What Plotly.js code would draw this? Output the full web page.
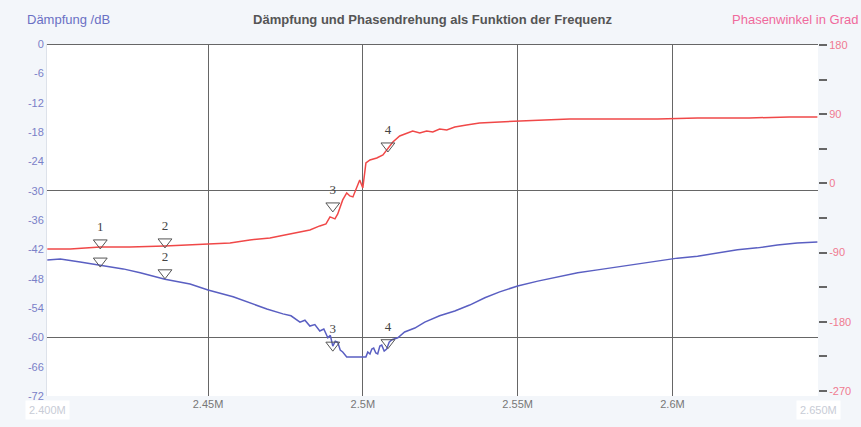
<!DOCTYPE html>
<html>
<head>
<meta charset="utf-8">
<script src="https://cdn.plot.ly/plotly-3.0.1.min.js"></script>
<style>html,body{margin:0;padding:0;background:#f3f6fa;}#chart{width:861px;height:427px;}</style>
</head>
<body>
<div id="chart"></div>
<script>
// Frequency in MHz
const dampFreq = [2.3981,2.4023,2.4087,2.4152,2.4226,2.4281,2.4361,2.4442,2.4500,2.4581,2.4635,2.4690,2.4742,2.4768,2.4797,2.4813,2.4829,2.4845,2.4861,2.4874,2.4887,2.4895,2.4903,2.4911,2.4919,2.4927,2.4935,2.4948,2.4977,2.5010,2.5016,2.5023,2.5029,2.5035,2.5042,2.5048,2.5055,2.5061,2.5069,2.5077,2.5085,2.5094,2.5113,2.5135,2.5168,2.5200,2.5248,2.5297,2.5345,2.5394,2.5442,2.5500,2.5565,2.5629,2.5694,2.5758,2.5823,2.5887,2.5952,2.6016,2.6081,2.6145,2.6210,2.6274,2.6339,2.6403,2.6468];
const dampDB = [-44.2,-44.0,-44.6,-45.2,-46.0,-46.8,-48.1,-49.1,-50.3,-51.7,-53.0,-54.2,-55.2,-55.6,-56.9,-56.5,-57.7,-57.4,-58.7,-58.3,-60.1,-59.6,-61.8,-60.8,-61.0,-62.6,-63.0,-64.0,-64.0,-64.0,-63.0,-63.4,-62.4,-62.2,-63.2,-63.4,-61.8,-61.6,-62.8,-62.4,-61.0,-60.5,-60.1,-58.9,-58.1,-56.9,-55.6,-54.6,-53.4,-51.9,-50.7,-49.5,-48.5,-47.7,-46.8,-46.2,-45.6,-45.0,-44.4,-43.8,-43.4,-42.7,-42.1,-41.7,-41.1,-40.7,-40.5];

const phaseFreq = [2.3981,2.4055,2.4152,2.4248,2.4361,2.4442,2.4500,2.4571,2.4635,2.4700,2.4748,2.4797,2.4829,2.4861,2.4881,2.4894,2.4910,2.4919,2.4935,2.4948,2.4958,2.4968,2.4981,2.4990,2.5000,2.5010,2.5023,2.5045,2.5065,2.5077,2.5097,2.5119,2.5142,2.5161,2.5184,2.5206,2.5226,2.5248,2.5271,2.5297,2.5335,2.5377,2.5442,2.5500,2.5587,2.5668,2.5758,2.5861,2.5952,2.6081,2.6248,2.6377,2.6468];
const phaseDeg = [-85.2,-85.2,-82.6,-82.6,-81.3,-80.0,-78.7,-77.4,-73.5,-70.9,-67.0,-63.1,-60.5,-55.3,-52.7,-43.6,-46.2,-39.7,-21.5,-12.4,-16.3,-17.6,-3.3,4.5,-5.9,26.6,30.5,33.1,37.0,43.5,53.9,61.7,65.6,68.2,65.6,68.2,66.9,70.8,69.5,73.4,76.0,78.6,79.9,81.2,82.5,83.8,83.8,83.8,83.8,85.1,85.1,86.4,86.4];

// Markers
const markerFreq = [2.4152,2.4361,2.4903,2.5081];
const markerPhase = [-77.4,-76.1,-29.3,48.7];
const markerDamp = [-44.4,-46.8,-61.6,-61.1];
const markerLabelsPhase = ['1','2','3','4'];
const markerLabelsDamp = ['','2','3','4'];

const xTickVals = [2.45,2.5,2.55,2.6];
const xTickText = ['2.45M','2.5M','2.55M','2.6M'];
const yTickVals = [0,-6,-12,-18,-24,-30,-36,-42,-48,-54,-60,-66,-72];
const yTickText = ['0','-6','-12','-18','-24','-30','-36','-42','-48','-54','-60','-66','-72'];
const y2TickVals = [180,135,90,45,0,-45,-90,-135,-180,-225,-270];
const y2TickText = ['180','','90','','0','','-90','','-180','','-270'];

const markerStyle = {symbol:'triangle-down-open', size:12, color:'#555', line:{width:1, color:'#555'}};
const markerFont = {family:'Liberation Serif, serif', size:13, color:'#444'};

const traces = [
  {x: phaseFreq, y: phaseDeg, yaxis:'y2', type:'scatter', mode:'lines', line:{color:'#f04848', width:1.5}, hoverinfo:'skip'},
  {x: dampFreq, y: dampDB, yaxis:'y', type:'scatter', mode:'lines', line:{color:'#5a5fc2', width:1.5}, hoverinfo:'skip'},
  {x: markerFreq, y: markerPhase, yaxis:'y2', type:'scatter', mode:'markers+text', marker:markerStyle, text:markerLabelsPhase, textposition:'top center', textfont:markerFont},
  {x: markerFreq, y: markerDamp, yaxis:'y', type:'scatter', mode:'markers+text', marker:markerStyle, text:markerLabelsDamp, textposition:'top center', textfont:markerFont},
  {x: [2.45], y: [0], yaxis:'y3', type:'scatter', mode:'none', hoverinfo:'skip'}
];

const layout = {
  width: 861, height: 427,
  margin: {l:47, r:43, t:44, b:31},
  paper_bgcolor:'#f3f6fa', plot_bgcolor:'#ffffff',
  showlegend:false,
  font:{family:'Liberation Sans, Arial, sans-serif'},
  title:{text:'<b>Dämpfung und Phasendrehung als Funktion der Frequenz</b>', x:0.5, xref:'paper', xanchor:'center', y:0.955, yanchor:'middle', font:{size:13, color:'#555'}},
  xaxis:{range:[2.398,2.647], tickvals:xTickVals, ticktext:xTickText, showgrid:true, gridcolor:'#666', gridwidth:1, zeroline:false, ticks:'', tickfont:{size:11, color:'#777'}, showline:false, fixedrange:true},
  yaxis:{range:[-72,0], tickvals:yTickVals, ticktext:yTickText, showgrid:false, zeroline:false, ticks:'', tickfont:{size:11, color:'#7a80c8'}, showline:true, linecolor:'#dde2ea', fixedrange:true},
  yaxis2:{range:[-276.5,181.3], overlaying:'y', side:'right', tickvals:y2TickVals, ticktext:y2TickText, ticks:'outside', ticklen:8, tickwidth:2, tickcolor:'#666', showgrid:false, zeroline:false, tickfont:{size:11, color:'#f07a90'}, showline:false, fixedrange:true},
  yaxis3:{range:[-72,0], overlaying:'y', side:'left', tickvals:[0,-30,-60], showticklabels:false, showgrid:true, gridcolor:'#666', gridwidth:1, zeroline:true, zerolinecolor:'#666', zerolinewidth:1, ticks:'', fixedrange:true},
  annotations:[
    {text:'Dämpfung /dB', xref:'paper', yref:'paper', x:-0.0285, y:1.071, xanchor:'left', yanchor:'middle', showarrow:false, font:{size:13, color:'#6a70c4'}},
    {text:'Phasenwinkel in Grad', xref:'paper', yref:'paper', x:1.055, y:1.071, xanchor:'right', yanchor:'middle', showarrow:false, font:{size:13, color:'#f06a9c'}},
    {text:'2.400M', xref:'paper', yref:'paper', x:0, y:0, xanchor:'center', yanchor:'top', yshift:-4, showarrow:false, bgcolor:'#ffffff', borderpad:3, font:{size:11, color:'#c8ccd6'}},
    {text:'2.650M', xref:'paper', yref:'paper', x:1, y:0, xanchor:'center', yanchor:'top', yshift:-4, showarrow:false, bgcolor:'#ffffff', borderpad:3, font:{size:11, color:'#c8ccd6'}}
  ]
};

Plotly.newPlot('chart', traces, layout, {displayModeBar:false, staticPlot:true});
</script>
</body>
</html>
